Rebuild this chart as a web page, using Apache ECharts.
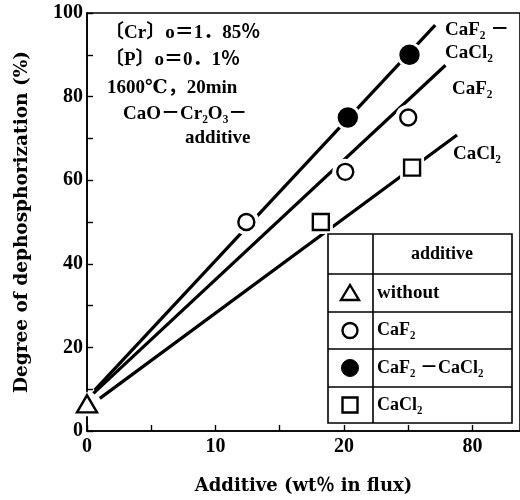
<!DOCTYPE html>
<html>
<head>
<meta charset="utf-8">
<script src="https://cdn.jsdelivr.net/npm/echarts@6/dist/echarts.min.js"></script>
<style>
  html, body { margin: 0; padding: 0; background: #fff; }
  #chart { width: 520px; height: 500px; }
</style>
</head>
<body>
<div id="chart"></div>
<script>
// Measured points: [additive wt%, degree of dephosphorization %]
const withoutPts = [[0, 6.5]];
const caf2Pts = [[12.4, 50], [20.1, 62], [25, 75]];
const caf2cacl2Pts = [[20.3, 75], [25.1, 90]];
const cacl2Pts = [[18.2, 50], [25.3, 63]];

// Regression lines drawn through each flux system (end points)
const caf2cacl2Line = [[0.6, 9.8], [27.1, 97.1]];
const caf2Line = [[0.5, 9.0], [27.9, 87.5]];
const cacl2Line = [[1.0, 7.8], [28.8, 70.8]];

// Axis ticks
const xLabelMap = { 0: '0', 10: '10', 20: '20', 30: '80' };
const yLabelValues = [0, 20, 40, 60, 80, 100];

const SERIF = '"Liberation Serif", "DejaVu Serif", "Noto Sans CJK JP", serif';
const BOLD_SERIF = '"DejaVu Serif", "Noto Sans CJK JP", serif';

const chart = echarts.init(document.getElementById('chart'), null, { renderer: 'canvas' });

function lineSeries(data) {
  return {
    type: 'line', data: data, symbol: 'none', z: 2, silent: true,
    lineStyle: { color: '#000', width: 3.2 }, animation: false
  };
}
function haloSeries(data, symbol, size) {
  return {
    type: 'scatter', data: data, symbol: symbol, symbolSize: size, z: 3, silent: true,
    itemStyle: { color: '#fff', borderWidth: 0, opacity: 1 }, animation: false
  };
}
function markSeries(data, symbol, size, filled) {
  return {
    type: 'scatter', data: data, symbol: symbol, symbolSize: size, z: 4, silent: true,
    itemStyle: { color: filled ? '#000' : '#fff', borderColor: '#000', borderWidth: 2.4, opacity: 1 },
    animation: false
  };
}

const txt = (x, y, text, size, extra) => Object.assign({
  type: 'text', x: x, y: y, z: 20,
  style: {
    text: text, fill: '#000', font: 'bold ' + size + 'px ' + SERIF,
    textVerticalAlign: 'middle'
  }
}, extra || {});

// Legend table geometry
const tL = 328, tR = 512, tT = 234, tB = 423, tDiv = 373;
const rows = [234, 274, 312, 349, 387, 423];
const symX = 350;

const graphics = [
  { type: 'rect', z: 15, shape: { x: tL, y: tT, width: tR - tL, height: tB - tT },
    style: { fill: '#fff', stroke: '#000', lineWidth: 1.6 } },
  { type: 'line', z: 16, shape: { x1: tDiv, y1: tT, x2: tDiv, y2: tB },
    style: { stroke: '#000', lineWidth: 1.6 } }
];
for (let i = 1; i < rows.length - 1; i++) {
  graphics.push({ type: 'line', z: 16, shape: { x1: tL, y1: rows[i], x2: tR, y2: rows[i] },
    style: { stroke: '#000', lineWidth: 1.4 } });
}
const rowMid = i => (rows[i] + rows[i + 1]) / 2;
graphics.push(
  txt(442, rowMid(0), 'additive', 18, { style: { text: 'additive', fill: '#000', font: 'bold 18px ' + SERIF, textAlign: 'center', textVerticalAlign: 'middle' } }),
  txt(377, rowMid(1), 'without', 19),
  txt(377, rowMid(2), 'CaF₂', 18),
  txt(377, rowMid(3), 'CaF₂ －CaCl₂', 18),
  txt(377, rowMid(4), 'CaCl₂', 18),
  // legend symbols
  { type: 'polygon', z: 17, shape: { points: [[symX, rowMid(1) - 8], [symX - 9, rowMid(1) + 7], [symX + 9, rowMid(1) + 7]] },
    style: { fill: '#fff', stroke: '#000', lineWidth: 2.4 } },
  { type: 'circle', z: 17, shape: { cx: symX, cy: rowMid(2), r: 7.5 },
    style: { fill: '#fff', stroke: '#000', lineWidth: 2.4 } },
  { type: 'circle', z: 17, shape: { cx: symX, cy: rowMid(3), r: 8.5 },
    style: { fill: '#000', stroke: '#000', lineWidth: 1 } },
  { type: 'rect', z: 17, shape: { x: symX - 7.5, y: rowMid(4) - 7.5, width: 15, height: 15 },
    style: { fill: '#fff', stroke: '#000', lineWidth: 2.4 } },
  // experimental conditions
  txt(105, 33, '〔Cr〕o＝1．85％', 19),
  txt(105, 60, '〔P〕o＝0．1％', 19),
  txt(107, 88, '1600℃，20min', 19),
  txt(123, 114, 'CaO－Cr₂O₃－', 19),
  txt(185, 138, 'additive', 19),
  // series labels at line ends
  txt(445, 30, 'CaF₂ －', 19),
  txt(445, 53, 'CaCl₂', 19),
  txt(452, 89, 'CaF₂', 19),
  txt(453, 154, 'CaCl₂', 19)
);

chart.setOption({
  animation: false,
  backgroundColor: '#fff',
  grid: { left: 87, right: -3, top: 13, bottom: 65, show: true, borderColor: '#000', borderWidth: 1.6 },
  xAxis: {
    type: 'value', min: 0, max: 33.7, interval: 5,
    name: 'Additive (wt％ in flux)', nameLocation: 'middle', nameGap: 46,
    nameTextStyle: { fontFamily: BOLD_SERIF, fontWeight: 'bold', fontSize: 18, color: '#000' },
    axisLine: { show: true, onZero: false, lineStyle: { color: '#000', width: 1.6 } },
    axisTick: { show: true, inside: true, length: 6, lineStyle: { color: '#000', width: 1.4 } },
    axisLabel: {
      color: '#000', fontFamily: SERIF, fontWeight: 'bold', fontSize: 20, margin: 6,
      showMaxLabel: false,
      formatter: v => (xLabelMap[v] !== undefined ? xLabelMap[v] : '')
    },
    splitLine: { show: false }
  },
  yAxis: {
    type: 'value', min: 0, max: 100, interval: 10,
    name: 'Degree of dephosphorization (%)', nameLocation: 'middle', nameGap: 56, nameRotate: 90,
    nameTextStyle: { fontFamily: BOLD_SERIF, fontWeight: 'bold', fontSize: 18.5, color: '#000' },
    axisLine: { show: true, lineStyle: { color: '#000', width: 1.6 } },
    axisTick: { show: true, inside: true, length: 6, lineStyle: { color: '#000', width: 1.4 } },
    axisLabel: {
      color: '#000', fontFamily: SERIF, fontWeight: 'bold', fontSize: 20, margin: 4,
      formatter: v => (yLabelValues.indexOf(v) >= 0 ? String(v) : '')
    },
    splitLine: { show: false }
  },
  series: [
    lineSeries(caf2cacl2Line),
    lineSeries(caf2Line),
    lineSeries(cacl2Line),
    haloSeries(caf2Pts, 'circle', 26),
    haloSeries(caf2cacl2Pts, 'circle', 26),
    haloSeries(cacl2Pts, 'rect', 24),
    haloSeries(withoutPts, 'triangle', [28, 25]),
    markSeries(withoutPts, 'triangle', [20, 17], false),
    markSeries(caf2Pts, 'circle', 16, false),
    markSeries(caf2cacl2Pts, 'circle', 18, true),
    markSeries(cacl2Pts, 'rect', 16, false)
  ],
  graphic: graphics
});
</script>
</body>
</html>
